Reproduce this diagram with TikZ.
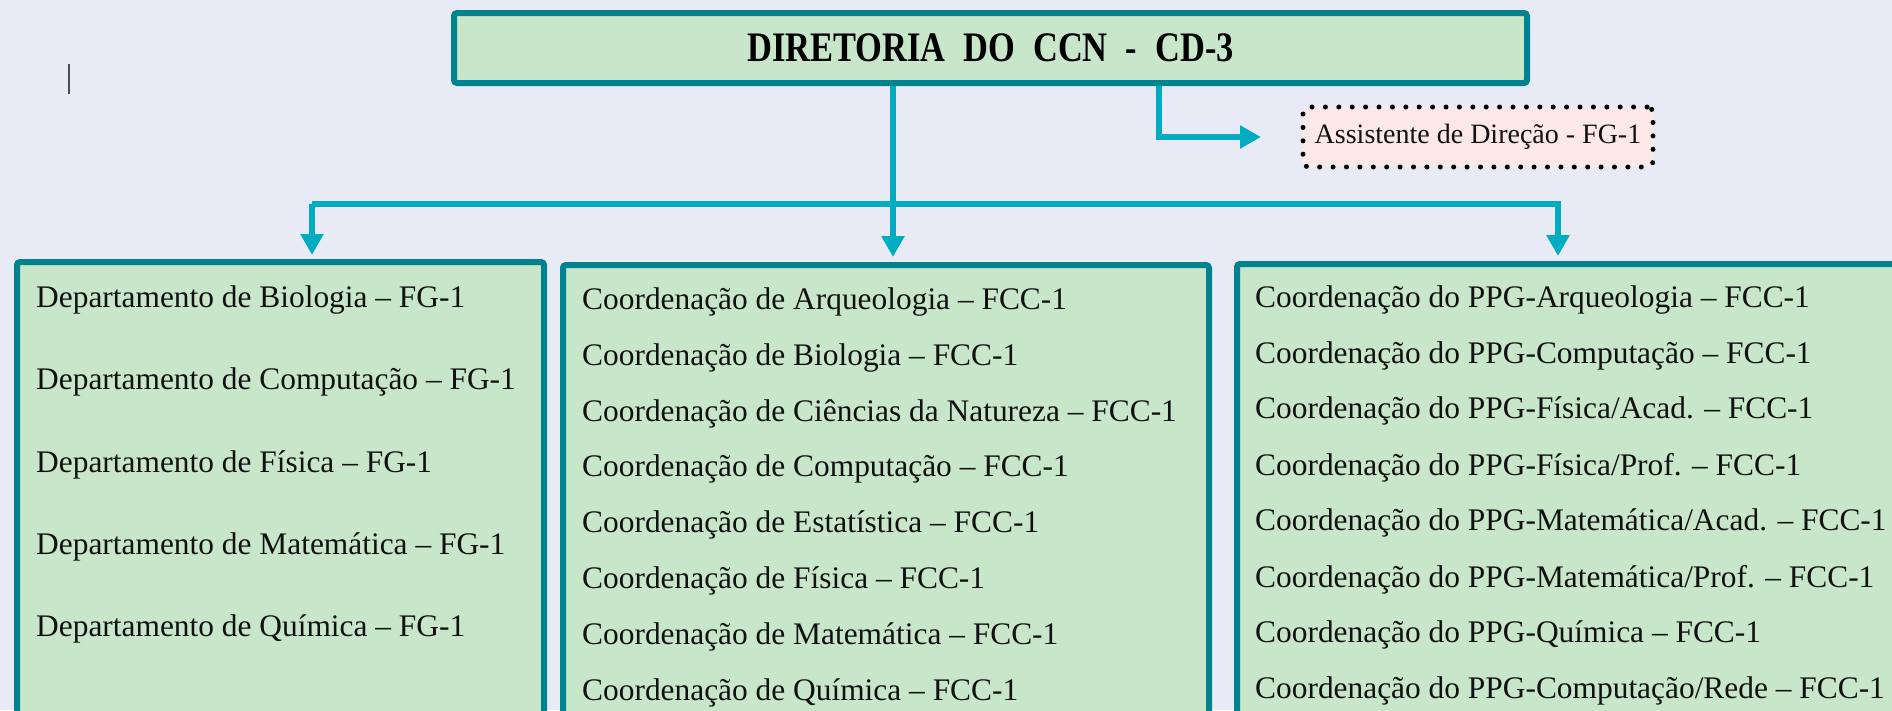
\documentclass[tikz,border=0pt]{standalone}
\usepackage{graphicx}
\usepackage{fontspec}
\setmainfont{Liberation Serif}
\usetikzlibrary{arrows.meta}
\definecolor{bgc}{HTML}{E8EAF6}
\definecolor{boxfill}{HTML}{C8E6C9}
\definecolor{boxline}{HTML}{00838F}
\definecolor{connc}{HTML}{00ACC1}
\definecolor{asstfill}{HTML}{FCE8E6}
\definecolor{txt}{HTML}{111111}
\pgfdeclarelayer{bg}
\pgfsetlayers{bg,main}
\begin{document}
\begin{tikzpicture}[x=1pt,y=-1pt,
  topbox/.style={draw=boxline, fill=boxfill, line width=6pt, rounded corners=3pt, inner sep=0pt},
  panel/.style={draw=boxline, fill=boxfill, line width=6pt, rounded corners=3pt, inner sep=0pt, anchor=north west},
  row/.style={anchor=base west, inner sep=0pt, text=txt, font=\fontsize{31.4}{36}\selectfont},
  asst/.style={draw=black, fill=asstfill, line width=5pt, dash pattern=on 0pt off 13.4pt, line cap=round, rounded corners=6pt, inner sep=0pt, text=txt, font=\fontsize{28}{32}\selectfont},
  conn/.style={draw=connc, line width=6pt},
  arr/.style={conn, -{Triangle[width=22pt,length=21pt]}}
]
\useasboundingbox (0,0) rectangle (1892,710);
\clip (0,0) rectangle (1892,710);
\begin{pgfonlayer}{bg}
  \fill[bgc] (0,0) rectangle (1892,710);
\end{pgfonlayer}

% cursor mark
\draw[black!70, line width=1.5pt] (69,64) -- (69,94);

% top box
\node[topbox, minimum width=1073pt, minimum height=70pt] (top) at (990.5,48)
  {\scalebox{0.82}[1]{\fontsize{42}{42}\selectfont\bfseries\spaceskip=22pt DIRETORIA DO CCN - CD-3}};

% assistant box
\node[asst, minimum width=350pt, minimum height=60pt] (A) at (1478,137) {Assistente de Direção - FG-1};

% panels
\node[panel, minimum width=527pt, minimum height=520pt] (L) at (14,259) {};
\node[panel, minimum width=646pt, minimum height=520pt] (M) at (560,262) {};
\node[panel, minimum width=700pt, minimum height=520pt] (R) at (1234,261) {};

% left rows
\node[row] (l1) at (36,307) {Departamento de Biologia – FG-1};
\node[row] (l2) at (36,389) {Departamento de Computação – FG-1};
\node[row] (l3) at (36,472) {Departamento de Física – FG-1};
\node[row] (l4) at (36,554) {Departamento de Matemática – FG-1};
\node[row] (l5) at (36,636) {Departamento de Química – FG-1};

% middle rows
\node[row] (m1) at (582,309) {Coordenação de Arqueologia – FCC-1};
\node[row] (m2) at (582,365) {Coordenação de Biologia – FCC-1};
\node[row] (m3) at (582,421) {Coordenação de Ciências da Natureza – FCC-1};
\node[row] (m4) at (582,476) {Coordenação de Computação – FCC-1};
\node[row] (m5) at (582,532) {Coordenação de Estatística – FCC-1};
\node[row] (m6) at (582,588) {Coordenação de Física – FCC-1};
\node[row] (m7) at (582,644) {Coordenação de Matemática – FCC-1};
\node[row] (m8) at (582,700) {Coordenação de Química – FCC-1};

% right rows
\node[row] (r1) at (1255,307) {Coordenação do PPG-Arqueologia – FCC-1};
\node[row] (r2) at (1255,363) {Coordenação do PPG-Computação – FCC-1};
\node[row] (r3) at (1255,418) {Coordenação do PPG-Física/Acad. – FCC-1};
\node[row] (r4) at (1255,475) {Coordenação do PPG-Física/Prof. – FCC-1};
\node[row] (r5) at (1255,530) {Coordenação do PPG-Matemática/Acad. – FCC-1};
\node[row] (r6) at (1255,587) {Coordenação do PPG-Matemática/Prof. – FCC-1};
\node[row] (r7) at (1255,642) {Coordenação do PPG-Química – FCC-1};
\node[row] (r8) at (1255,698) {Coordenação do PPG-Computação/Rede – FCC-1};

% connector coordinates
\coordinate (cx) at (893,204);
\coordinate (hl) at (312,204);
\coordinate (hr) at (1558,204);
\coordinate (hre) at (1561,204);
\coordinate (ax) at (1159,137);
\coordinate (atip) at (1261,137);

\begin{pgfonlayer}{bg}
  \draw[arr, shorten >=5pt] (top.south -| cx) -- (M.north -| cx);
  \draw[conn] (hl) -- (hre);
  \draw[arr, shorten >=4pt] (hl) -- (L.north -| hl);
  \draw[arr, shorten >=5pt] (hr) -- (R.north -| hr);
  \draw[arr] (top.south -| ax) |- (atip);
\end{pgfonlayer}
\end{tikzpicture}
\end{document}
